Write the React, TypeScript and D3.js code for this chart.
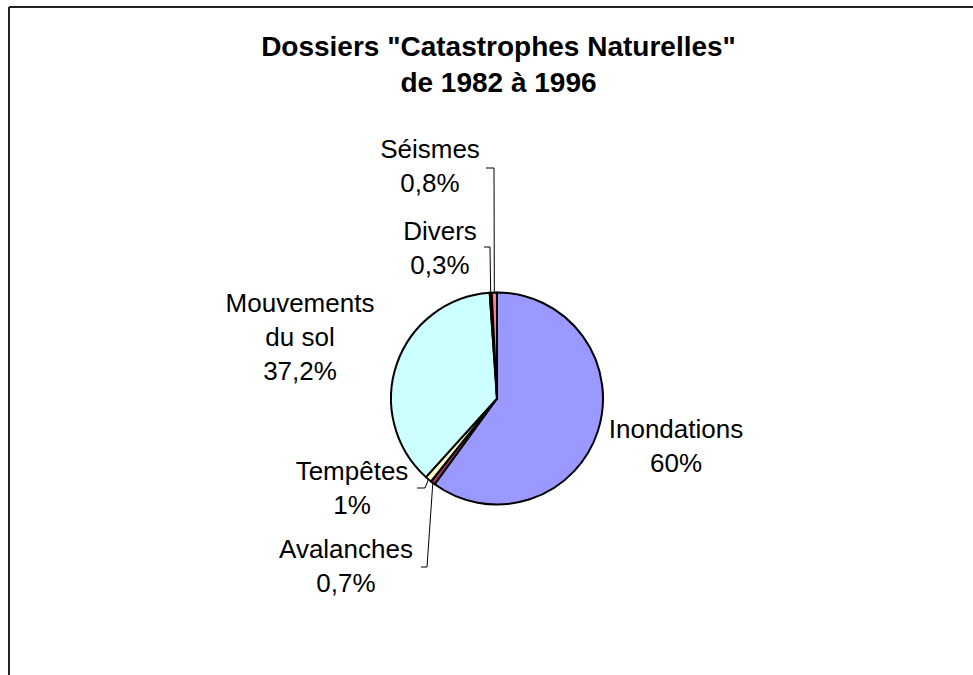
import * as d3 from "d3";

const categories = ["Inondations", "Avalanches", "Tempêtes", "Mouvements du sol", "Divers", "Séismes"];
const values = [60, 0.7, 1, 37.2, 0.3, 0.8];
const titleLines = ['Dossiers "Catastrophes Naturelles"', "de 1982 à 1996"];

// Excel 97 default pie fills, in series order
const COLORS = ["#9999ff", "#993366", "#ffffcc", "#ccffff", "#660066", "#ff8080"];

const WIDTH = 973;
const HEIGHT = 675;
const CX = 497;
const CY = 398.5;
const R = 106;
const FONT = "'Liberation Sans', Arial, sans-serif";
const LABEL_SIZE = 26;
const LINE_H = 34;

// label layout: text lines centre x, first baseline y, optional leader (tick start x, tick y)
type LabelLayout = { x: number; y: number; lines: string[]; leader?: { x0: number; x1: number; y: number } };
const LABEL_LAYOUT: Record<string, LabelLayout> = {
  Inondations: { x: 676, y: 438, lines: ["Inondations"] },
  Avalanches: { x: 346, y: 558, lines: ["Avalanches"], leader: { x0: 421, x1: 427, y: 567 } },
  "Tempêtes": { x: 352, y: 480, lines: ["Tempêtes"], leader: { x0: 417, x1: 425, y: 488 } },
  "Mouvements du sol": { x: 300, y: 312, lines: ["Mouvements", "du sol"] },
  Divers: { x: 440, y: 240, lines: ["Divers"], leader: { x0: 484, x1: 490, y: 247 } },
  "Séismes": { x: 430, y: 158, lines: ["Séismes"], leader: { x0: 486, x1: 494, y: 168 } },
};

const fmt = (v: number) => `${String(v).replace(".", ",")}%`;

export default function App() {
  const data = categories.map((c, i) => ({ name: c, value: values[i], color: COLORS[i] }));
  const pie = d3
    .pie<(typeof data)[number]>()
    .sort(null)
    .value((d) => d.value)
    .startAngle(0)
    .endAngle(2 * Math.PI);
  const arcs = pie(data);
  const arc = d3.arc<d3.PieArcDatum<(typeof data)[number]>>().innerRadius(0).outerRadius(R);

  return (
    <svg
      width={WIDTH}
      height={HEIGHT}
      style={{ position: "absolute", left: 0, top: 0, background: "#fff" }}
      fontFamily={FONT}
    >
      <rect x={0} y={0} width={WIDTH} height={HEIGHT} fill="#fff" />
      {/* chart frame (only top and left edges are visible) */}
      <line x1={9} y1={7} x2={WIDTH} y2={7} stroke="#222" strokeWidth={2} />
      <line x1={9} y1={7} x2={9} y2={HEIGHT} stroke="#222" strokeWidth={2} />

      <text textAnchor="middle" fontSize={28} fontWeight="bold" fill="#000">
        {titleLines.map((t, i) => (
          <tspan key={i} x={WIDTH / 2 + 12} y={56 + i * 36}>
            {t}
          </tspan>
        ))}
      </text>

      <g transform={`translate(${CX},${CY})`}>
        {arcs.map((a, i) => (
          <path key={i} d={arc(a) ?? ""} fill={a.data.color} stroke="#000" strokeWidth={2} strokeLinejoin="round" />
        ))}
      </g>

      {arcs.map((a, i) => {
        const lay = LABEL_LAYOUT[a.data.name];
        const mid = (a.startAngle + a.endAngle) / 2;
        const ex = CX + R * Math.sin(mid);
        const ey = CY - R * Math.cos(mid);
        const lines = [...lay.lines, fmt(a.data.value)];
        return (
          <g key={i}>
            {lay.leader && (
              <polyline
                points={`${lay.leader.x0},${lay.leader.y} ${lay.leader.x1},${lay.leader.y} ${ex},${ey}`}
                fill="none"
                stroke="#000"
                strokeWidth={1}
              />
            )}
            <text textAnchor="middle" fontSize={LABEL_SIZE} fill="#000">
              {lines.map((l, j) => (
                <tspan key={j} x={lay.x} y={lay.y + j * LINE_H}>
                  {l}
                </tspan>
              ))}
            </text>
          </g>
        );
      })}
    </svg>
  );
}
